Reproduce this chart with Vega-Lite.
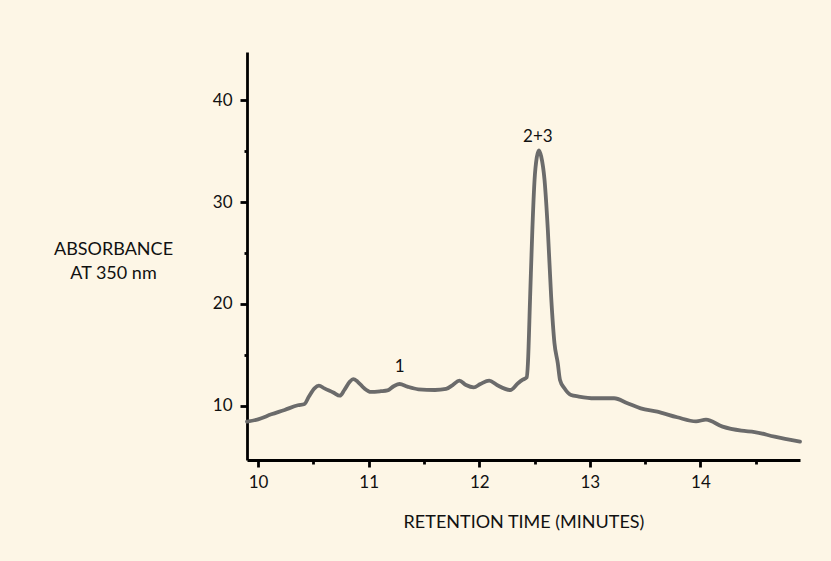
{
  "$schema": "https://vega.github.io/schema/vega-lite/v6.json",
  "width": 553,
  "height": 408,
  "autosize": {"type": "none"},
  "padding": {"left": 247, "top": 52, "right": 31, "bottom": 101},
  "background": "#fdf6e6",
  "config": {
    "view": {"stroke": null},
    "font": "Lato",
    "axis": {"grid": false, "domainColor": "#000", "domainWidth": 2.8, "tickColor": "#000", "tickWidth": 2.8, "labelColor": "#111", "labelFontSize": 17, "labelFont": "Lato", "titleFont": "Lato", "titleColor": "#111", "titleFontWeight": "normal", "titleFontSize": 18}
  },
  "datasets": {
    "trace": [
      {"t": 9.9, "a": 8.43}, {"t": 10.0, "a": 8.66}, {"t": 10.12, "a": 9.15}, {"t": 10.24, "a": 9.58},
      {"t": 10.36, "a": 10.04}, {"t": 10.42, "a": 10.17}, {"t": 10.46, "a": 10.9}, {"t": 10.51, "a": 11.7},
      {"t": 10.55, "a": 11.97}, {"t": 10.6, "a": 11.7}, {"t": 10.68, "a": 11.3}, {"t": 10.74, "a": 10.98},
      {"t": 10.78, "a": 11.54}, {"t": 10.83, "a": 12.36}, {"t": 10.86, "a": 12.6}, {"t": 10.9, "a": 12.36},
      {"t": 10.96, "a": 11.7}, {"t": 11.02, "a": 11.35}, {"t": 11.11, "a": 11.42}, {"t": 11.17, "a": 11.5},
      {"t": 11.23, "a": 11.94}, {"t": 11.28, "a": 12.13}, {"t": 11.35, "a": 11.87}, {"t": 11.45, "a": 11.61},
      {"t": 11.6, "a": 11.54}, {"t": 11.7, "a": 11.65}, {"t": 11.76, "a": 12.03}, {"t": 11.82, "a": 12.46},
      {"t": 11.88, "a": 12.03}, {"t": 11.95, "a": 11.8}, {"t": 12.01, "a": 12.13}, {"t": 12.09, "a": 12.46},
      {"t": 12.16, "a": 12.03}, {"t": 12.28, "a": 11.54}, {"t": 12.35, "a": 12.2}, {"t": 12.39, "a": 12.53},
      {"t": 12.43, "a": 12.79}, {"t": 12.44, "a": 14.17}, {"t": 12.46, "a": 20.72}, {"t": 12.48, "a": 27.28},
      {"t": 12.5, "a": 32.2}, {"t": 12.52, "a": 34.4}, {"t": 12.54, "a": 35.1}, {"t": 12.56, "a": 34.49},
      {"t": 12.59, "a": 32.2}, {"t": 12.62, "a": 27.28}, {"t": 12.65, "a": 20.72}, {"t": 12.68, "a": 16.14},
      {"t": 12.71, "a": 14.17}, {"t": 12.73, "a": 12.53}, {"t": 12.77, "a": 11.71}, {"t": 12.83, "a": 11.05},
      {"t": 12.9, "a": 10.9}, {"t": 13.04, "a": 10.73}, {"t": 13.22, "a": 10.73}, {"t": 13.34, "a": 10.24},
      {"t": 13.46, "a": 9.74}, {"t": 13.61, "a": 9.41}, {"t": 13.79, "a": 8.86}, {"t": 13.96, "a": 8.46},
      {"t": 14.05, "a": 8.62}, {"t": 14.2, "a": 7.94}, {"t": 14.37, "a": 7.54}, {"t": 14.49, "a": 7.41},
      {"t": 14.67, "a": 6.95}, {"t": 14.9, "a": 6.46}
    ],
    "labels": [
      {"t": 11.28, "a": 13.8, "label": "1"},
      {"t": 12.53, "a": 36.45, "label": "2+3"}
    ]
  },
  "layer": [
    {
      "data": {"name": "trace"},
      "mark": {"type": "line", "color": "#6b6b6b", "strokeWidth": 3.8, "interpolate": "monotone", "strokeCap": "round", "strokeJoin": "round"},
      "encoding": {
        "x": {
          "field": "t", "type": "quantitative",
          "scale": {"domain": [9.9, 14.9], "nice": false, "zero": false},
          "axis": {
            "values": [10, 10.5, 11, 11.5, 12, 12.5, 13, 13.5, 14, 14.5],
            "labelExpr": "datum.value % 1 === 0 ? format(datum.value, 'd') : ''",
            "tickSize": {"condition": {"test": "datum.value % 1 !== 0", "value": 4}, "value": 7},
            "labelPadding": 7,
            "title": "RETENTION TIME (MINUTES)",
            "titleBaseline": "middle",
            "titleY": 62
          }
        },
        "y": {
          "field": "a", "type": "quantitative",
          "scale": {"domain": [4.66, 44.76], "nice": false, "zero": false},
          "axis": {
            "values": [10, 15, 20, 25, 30, 35, 40],
            "labelExpr": "datum.value % 10 === 0 ? datum.label : ''",
            "tickSize": {"condition": {"test": "datum.value % 10 !== 0", "value": 3}, "value": 7},
            "labelPadding": 8,
            "title": ["ABSORBANCE", "AT 350 nm"],
            "titleAngle": 0,
            "titleAlign": "center",
            "titleBaseline": "middle",
            "titleLineHeight": 24,
            "titleX": -134,
            "titleY": 197
          }
        }
      }
    },
    {
      "data": {"name": "labels"},
      "mark": {"type": "text", "fontSize": 17, "font": "Lato", "color": "#111", "baseline": "middle", "align": "center"},
      "encoding": {
        "x": {"field": "t", "type": "quantitative"},
        "y": {"field": "a", "type": "quantitative"},
        "text": {"field": "label"}
      }
    }
  ]
}
